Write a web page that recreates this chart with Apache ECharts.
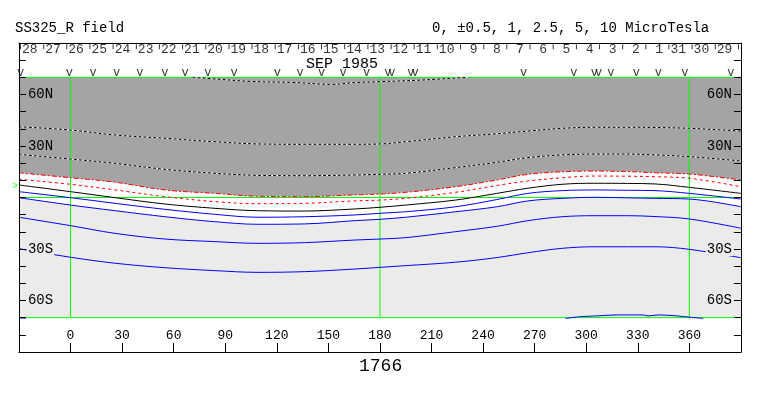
<!DOCTYPE html>
<html><head><meta charset="utf-8">
<script src="https://cdn.jsdelivr.net/npm/echarts@6/dist/echarts.min.js"></script>
<style>html,body{margin:0;padding:0;background:#fff}#c{width:763px;height:396px}</style>
</head><body><div id="c"></div>
<script>
// ---- data (Carrington longitude, latitude in degrees) ----
const lons = [-30, 0, 26, 55, 84, 109, 136, 165, 180, 195, 224, 248, 266, 286, 305, 324, 340, 360, 390];
const cP5   = [41.2, 39.3, 36.4, 34.5, 32.5, 31.2, 31.0, 31.0, 31.2, 32.5, 35.4, 37.1, 38.7, 40.3, 40.9, 40.9, 40.8, 40.3, 38.7];
const cP2_5 = [25.1, 22.4, 19.9, 16.4, 14.1, 12.9, 12.7, 13.1, 13.5, 14.1, 17.4, 20.5, 23.2, 24.8, 25.3, 25.3, 24.8, 23.8, 21.3];
const cP1   = [14.4, 11.5, 8.9, 4.4, 2.4, 0.7, 0.5, 1.5, 2.0, 3.0, 6.3, 10.2, 13.5, 15.0, 15.4, 15.1, 14.4, 13.7, 10.2];
const cP0_5 = [10.6, 7.7, 4.4, 0.5, -2.4, -3.6, -3.4, -2.0, -1.5, -0.5, 3.0, 7.0, 9.6, 11.5, 12.5, 12.4, 12.1, 11.2, 6.3];
const c0    = [7.3, 3.4, -0.1, -3.8, -6.3, -7.7, -7.9, -6.7, -5.7, -4.4, -1.5, 2.4, 5.4, 7.7, 8.3, 8.2, 7.9, 5.9, 2.4];
const cN0_5 = [3.4, -0.1, -3.4, -6.9, -9.8, -11.5, -11.2, -10.2, -9.2, -8.3, -5.4, -1.2, 2.4, 4.0, 4.4, 4.2, 4.0, 2.4, -0.9];
const cN1   = [-0.1, -4.4, -7.7, -11.2, -14.1, -15.6, -15.4, -13.5, -12.7, -11.5, -8.3, -5.4, -2.0, -0.5, 0.1, -0.2, -0.5, -0.9, -5.4];
const cN2_5 = [-11.5, -16.4, -20.9, -24.2, -25.7, -26.7, -26.3, -24.8, -24.2, -23.4, -19.9, -16.8, -13.5, -11.2, -10.6, -10.6, -11.1, -12.5, -17.9];
const cN5   = [-29.8, -34.8, -38.3, -40.9, -42.6, -43.6, -43.2, -41.7, -40.7, -39.7, -37.7, -35.0, -32.2, -29.6, -28.7, -28.7, -28.7, -30.2, -35.1];
// +10 contour (only partly inside the 70N limit)
const p10Lon = [71, 85, 105, 130, 152, 165, 181, 204, 231];
const p10Lat = [70, 69, 67.6, 67, 65.9, 66.9, 67.5, 68.4, 70];
// -10 contour pieces (near 70S)
const n10aLon = [-30, -26];
const n10aLat = [-70.1, -70.3];
const n10bLon = [288, 297, 306, 318, 333, 336, 342, 353, 360, 368];
const n10bLat = [-70.4, -69.4, -69.0, -68.4, -68.4, -69.0, -68.4, -69.0, -69.7, -70.4];
// reference lines
const meridians = [0, 180, 360];
const parallels = [70, 0, -70];
const latLimit = 70;
// observation marks (v)
const obsLons = [-29, -0.7, 13.1, 26.8, 40.4, 54.9, 66.6, 79.9, 95.1, 120.4, 133.5, 146, 158.6, 172.3, 184.6, 186.9, 198, 200.4, 263.6, 292.8, 304.8, 307.2, 314.4, 329.2, 342, 357.4, 384.2];
// day boundaries (longitude) and day-of-month labels (last boundary has no label)
const dayLons = [-29.1, -15.6, -2.2, 11.3, 24.8, 38.3, 51.7, 65.2, 78.7, 92.2, 105.6, 119.1, 132.6, 146.0, 159.5, 173.0, 186.5, 199.9, 213.4, 226.9, 240.4, 253.8, 267.3, 280.8, 294.3, 307.7, 321.2, 334.7, 348.1, 361.6, 375.1, 388.6];
const dayNames = ['28','27','26','25','24','23','22','21','20','19','18','17','16','15','14','13','12','11','10','9','8','7','6','5','4','3','2','1','31','30','29',''];
const xTicks = [0, 30, 60, 90, 120, 150, 180, 210, 240, 270, 300, 330, 360];
const latLabels = {60: '60N', 30: '30N', '-30': '30S', '-60': '60S'};
const b0 = 6.7;
const rotation = '1766';
const monthLabel = 'SEP 1985';
const titleLeft = 'SS325_R field';
const titleRight = '0, \u00b10.5, 1, 2.5, 5, 10 MicroTesla';

// ---- chart ----
const F = "'Liberation Mono', 'Courier New', monospace";
const pair = (xs, ys) => xs.map((x, i) => [x, ys[i]]);
const SM = 0.35;
const DARK = '#a4a4a4', LIGHT = '#ebebeb';
const series = [];
series.push({type: 'line', data: pair(lons, cP1), smooth: SM, symbol: 'none', silent: true,
  lineStyle: {width: 0, opacity: 0}, areaStyle: {color: DARK, opacity: 1, origin: latLimit}, z: 1});
series.push({type: 'line', data: pair(lons, cN1), smooth: SM, symbol: 'none', silent: true,
  lineStyle: {width: 0, opacity: 0}, areaStyle: {color: LIGHT, opacity: 1, origin: -latLimit}, z: 1});
meridians.forEach(m => series.push({type: 'line', data: [[m, -latLimit], [m, latLimit]], symbol: 'none',
  lineStyle: {color: '#00ff00', width: 1}, z: 2, silent: true}));
parallels.forEach(p => series.push({type: 'line', data: [[-30, p], [390, p]], symbol: 'none',
  lineStyle: {color: '#00ff00', width: 1}, z: 2, silent: true}));
function contour(xs, ys, color, type, under) {
  if (under) series.push({type: 'line', data: pair(xs, ys), smooth: SM, symbol: 'none', silent: true,
    lineStyle: {color: under, width: 1}, z: 3});
  series.push({type: 'line', data: pair(xs, ys), smooth: SM, symbol: 'none', silent: true,
    lineStyle: {color: color, width: 1, type: type}, z: 4});
}
contour(p10Lon, p10Lat, '#000', [3, 2], '#fff');
contour(lons, cP5, '#000', [3, 2], '#fff');
contour(lons, cP2_5, '#000', [3, 2], '#fff');
contour(lons, cP1, '#ff0000', [5, 2, 2, 2]);
contour(lons, cP0_5, '#ff0000', [3, 3]);
contour(lons, c0, '#000000', 'solid');
contour(lons, cN0_5, '#0000ff', 'solid');
contour(lons, cN1, '#0000ff', 'solid');
contour(lons, cN2_5, '#0000ff', 'solid');
contour(lons, cN5, '#0000ff', 'solid');
contour(n10aLon, n10aLat, '#0000ff', 'solid');
contour(n10bLon, n10bLat, '#0000ff', 'solid');
// observation marks
series.push({type: 'scatter', data: obsLons.map(l => [l, 72.4]), symbolSize: 0, silent: true, z: 5,
  label: {show: true, position: 'inside', formatter: 'v', color: '#000', fontFamily: F, fontSize: 12}});
// day ticks and labels
series.push({type: 'scatter', data: dayLons.map((l, i) => [l, 87.8, dayNames[i]]), symbol: 'rect', symbolSize: [1, 5],
  itemStyle: {color: '#000'}, silent: true, z: 5,
  label: {show: true, position: 'right', distance: 1, offset: [0, 3],
    formatter: p => (p.data[2].length === 1 ? ' ' : '') + p.data[2], color: '#000', fontFamily: F, fontSize: 13}});
// B0 marker
series.push({type: 'scatter', data: [[-30, b0]], symbolSize: 0, silent: true, z: 5,
  label: {show: true, position: 'left', distance: 1, formatter: '>', color: '#00ff00', fontFamily: F, fontSize: 10}});

const yLab = (pos) => ({
  show: true, inside: true, margin: 8, fontFamily: F, fontSize: 14, color: '#000',
  formatter: v => {
    const t = latLabels[v];
    if (!t) return '';
    return (v > 0 ? '{n|' : '{s|') + t + '}';
  },
  rich: {
    n: {backgroundColor: DARK, fontFamily: F, fontSize: 14, color: '#000', padding: [0, 1]},
    s: {backgroundColor: LIGHT, fontFamily: F, fontSize: 14, color: '#000', padding: [0, 1]}
  }
});
const yAx = (pos) => ({
  type: 'value', position: pos, min: -90, max: 90, interval: 10, z: 10,
  axisLine: {show: true, onZero: false, lineStyle: {color: '#000', width: 1}},
  axisTick: {show: true, inside: true, length: 7, lineStyle: {color: '#000'}},
  splitLine: {show: false},
  axisLabel: yLab(pos)
});

const option = {
  animation: false,
  backgroundColor: '#fff',
  grid: {left: 18.93, top: 43, width: 722, height: 309, show: false},
  xAxis: [{
    type: 'value', position: 'bottom', min: -30, max: 390, interval: 30, z: 10,
    axisLine: {show: true, onZero: false, lineStyle: {color: '#000', width: 1}},
    axisTick: {show: true, inside: true, length: 9, lineStyle: {color: '#000'}},
    splitLine: {show: false},
    axisLabel: {inside: true, margin: 10, fontFamily: F, fontSize: 13, color: '#000',
      formatter: v => xTicks.indexOf(v) >= 0 ? String(v) : ''}
  }, {
    type: 'value', position: 'top', min: -30, max: 390, z: 10,
    axisLine: {show: true, onZero: false, lineStyle: {color: '#000', width: 1}},
    axisTick: {show: false}, axisLabel: {show: false}, splitLine: {show: false}
  }],
  yAxis: [yAx('left'), yAx('right')],
  graphic: [
    {type: 'text', left: 15, top: 21, style: {text: titleLeft, font: "14px 'Liberation Mono', monospace", fill: '#000'}},
    {type: 'text', left: 432, top: 21, style: {text: titleRight, font: "14px 'Liberation Mono', monospace", fill: '#000'}},
    {type: 'text', left: 306, top: 57, z: 20, style: {text: monthLabel, font: "15px 'Liberation Mono', monospace", fill: '#000'}},
    {type: 'text', left: 359, top: 357, style: {text: rotation, font: "18px 'Liberation Mono', monospace", fill: '#000'}}
  ],
  series: series
};
const chart = echarts.init(document.getElementById('c'));
chart.setOption(option);
</script>
</body></html>
